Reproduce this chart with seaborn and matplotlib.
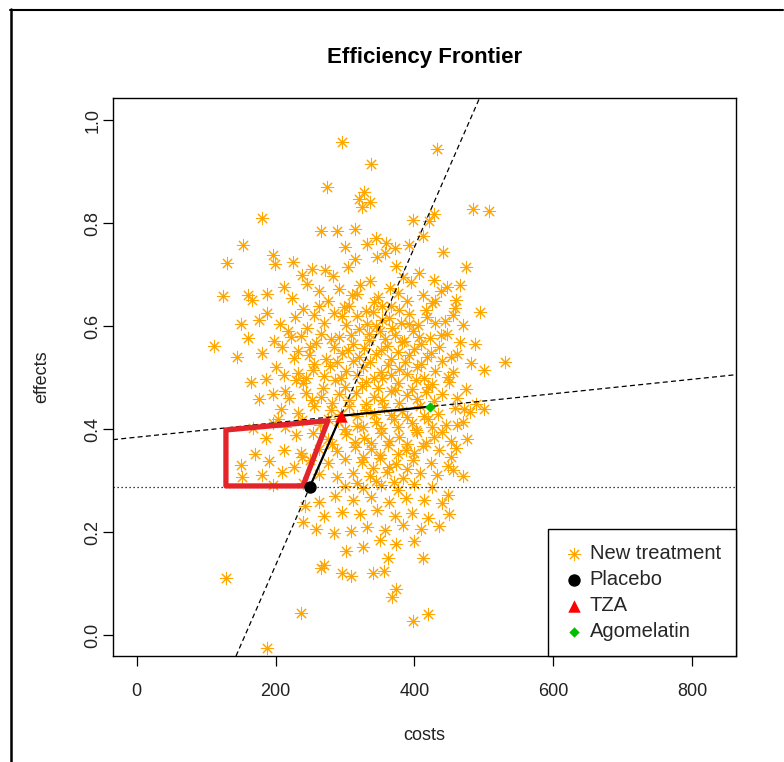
import matplotlib
matplotlib.use("Agg")
import matplotlib.pyplot as plt
import seaborn as sns
from matplotlib.lines import Line2D

sns.set_theme(style="white")
plt.rcParams['font.family'] = ['Liberation Sans', 'DejaVu Sans']

# Simulated "New treatment" cloud
costs = [
    296, 432, 338, 274, 327, 320, 180, 485, 508, 428,
    398, 336, 325, 421, 153, 300, 331, 359, 392, 266,
    288, 314, 345, 372, 413, 441, 474, 315, 346, 374,
    271, 225, 199, 130, 196, 238, 252, 283, 304, 357,
    406, 428, 447, 466, 395, 383, 365, 336, 322, 292,
    263, 246, 212, 188, 160, 124, 166, 224, 276, 310,
    348, 376, 412, 438, 460, 458, 425, 354, 298, 240,
    206, 176, 150, 188, 228, 255, 284, 318, 340, 364,
    392, 418, 444, 470, 494, 455, 430, 405, 380, 332,
    302, 270, 246, 218, 160, 198, 236, 266, 292, 350,
    372, 398, 422, 447, 466, 487, 436, 410, 385, 360,
    334, 312, 284, 258, 232, 210, 180, 144, 112, 200,
    226, 248, 272, 296, 320, 344, 366, 392, 418, 440,
    462, 482, 530, 500, 456, 430, 404, 378, 352, 326,
    302, 278, 254, 232, 212, 186, 164, 240, 286, 330,
    354, 376, 402, 426, 450, 474, 488, 462, 440, 416,
    390, 366, 342, 316, 292, 266, 244, 220, 196, 176,
    208, 232, 256, 280, 306, 330, 356, 382, 408, 434,
    458, 480, 500, 470, 446, 420, 396, 370, 344, 318,
    290, 264, 238, 214, 196, 168, 186, 230, 254, 276,
    302, 328, 352, 378, 404, 428, 452, 476, 460, 436,
    412, 388, 362, 338, 314, 288, 262, 236, 212, 170,
    150, 190, 226, 250, 276, 300, 324, 350, 374, 398,
    424, 448, 470, 456, 432, 408, 384, 360, 336, 312,
    288, 262, 210, 180, 152, 196, 240, 300, 326, 352,
    376, 400, 426, 448, 440, 414, 388, 364, 338, 312,
    286, 262, 242, 270, 296, 322, 346, 372, 396, 420,
    450, 436, 410, 384, 358, 332, 308, 284, 258, 240,
    350, 374, 400, 326, 302, 270, 362, 340, 296, 412,
    128, 265, 374, 368, 236, 398, 420, 188, 356, 308,
    318, 342, 366, 390, 306, 330, 354, 378, 296, 320,
    344, 368, 392, 308, 334, 358, 382, 406, 280, 304,
    328, 352, 376, 400, 424, 288, 312, 336, 362, 386,
    410, 270, 294, 318, 342, 366, 390, 414, 300, 324,
    348, 372, 396, 420, 282, 306, 330, 354, 378, 404,
    428, 294, 318, 342, 366, 390, 414, 300, 326, 352,
    376, 402, 426, 314, 338, 364, 390, 416, 326, 350,
    376, 400, 340, 364, 390, 318, 344, 370, 262, 250,
    256, 244, 268, 252, 276, 282, 438, 452, 448, 462,
    472, 440, 452, 222, 230, 214, 204, 238, 416, 430,
]
effects = [
    0.958, 0.944, 0.915, 0.870, 0.861, 0.848, 0.810, 0.828, 0.823, 0.818,
    0.806, 0.842, 0.832, 0.804, 0.758, 0.754, 0.760, 0.762, 0.758, 0.786,
    0.786, 0.788, 0.771, 0.752, 0.775, 0.744, 0.715, 0.730, 0.734, 0.718,
    0.709, 0.724, 0.720, 0.722, 0.738, 0.700, 0.712, 0.698, 0.716, 0.742,
    0.704, 0.690, 0.676, 0.680, 0.686, 0.695, 0.674, 0.688, 0.681, 0.672,
    0.669, 0.682, 0.676, 0.663, 0.660, 0.658, 0.652, 0.655, 0.650, 0.660,
    0.656, 0.664, 0.661, 0.668, 0.652, 0.636, 0.646, 0.640, 0.637, 0.633,
    0.605, 0.612, 0.604, 0.626, 0.618, 0.622, 0.626, 0.620, 0.628, 0.616,
    0.624, 0.618, 0.611, 0.602, 0.628, 0.622, 0.606, 0.603, 0.606, 0.604,
    0.602, 0.607, 0.596, 0.590, 0.578, 0.572, 0.581, 0.586, 0.579, 0.590,
    0.584, 0.590, 0.578, 0.586, 0.570, 0.566, 0.560, 0.566, 0.572, 0.562,
    0.574, 0.566, 0.560, 0.568, 0.552, 0.560, 0.548, 0.540, 0.562, 0.520,
    0.538, 0.544, 0.536, 0.548, 0.541, 0.546, 0.536, 0.545, 0.540, 0.532,
    0.546, 0.528, 0.530, 0.516, 0.512, 0.514, 0.520, 0.518, 0.512, 0.520,
    0.514, 0.522, 0.516, 0.510, 0.505, 0.498, 0.492, 0.490, 0.496, 0.492,
    0.500, 0.490, 0.495, 0.488, 0.492, 0.478, 0.450, 0.460, 0.468, 0.472,
    0.466, 0.474, 0.462, 0.470, 0.468, 0.462, 0.470, 0.460, 0.468, 0.458,
    0.440, 0.432, 0.446, 0.438, 0.446, 0.438, 0.444, 0.436, 0.446, 0.430,
    0.442, 0.434, 0.440, 0.414, 0.408, 0.420, 0.412, 0.420, 0.414, 0.406,
    0.416, 0.408, 0.418, 0.404, 0.412, 0.402, 0.384, 0.388, 0.392, 0.382,
    0.390, 0.384, 0.392, 0.386, 0.394, 0.386, 0.378, 0.382, 0.364, 0.360,
    0.368, 0.360, 0.370, 0.362, 0.366, 0.358, 0.362, 0.354, 0.360, 0.352,
    0.330, 0.338, 0.326, 0.340, 0.334, 0.342, 0.336, 0.344, 0.332, 0.340,
    0.334, 0.328, 0.310, 0.320, 0.312, 0.316, 0.306, 0.318, 0.310, 0.316,
    0.308, 0.314, 0.318, 0.312, 0.308, 0.292, 0.296, 0.290, 0.286, 0.292,
    0.282, 0.294, 0.288, 0.272, 0.256, 0.262, 0.266, 0.258, 0.268, 0.262,
    0.270, 0.258, 0.252, 0.232, 0.240, 0.236, 0.244, 0.232, 0.238, 0.228,
    0.236, 0.212, 0.206, 0.214, 0.204, 0.210, 0.202, 0.198, 0.206, 0.220,
    0.186, 0.178, 0.184, 0.172, 0.164, 0.136, 0.150, 0.120, 0.120, 0.150,
    0.112, 0.130, 0.090, 0.075, 0.044, 0.028, 0.042, -0.025, 0.125, 0.115,
    0.662, 0.648, 0.640, 0.650, 0.640, 0.630, 0.612, 0.632, 0.620, 0.594,
    0.600, 0.596, 0.604, 0.584, 0.586, 0.576, 0.570, 0.580, 0.576, 0.554,
    0.558, 0.554, 0.550, 0.556, 0.548, 0.530, 0.532, 0.530, 0.524, 0.530,
    0.526, 0.504, 0.500, 0.506, 0.500, 0.506, 0.508, 0.500, 0.482, 0.484,
    0.480, 0.476, 0.478, 0.482, 0.452, 0.456, 0.450, 0.456, 0.452, 0.458,
    0.454, 0.430, 0.426, 0.430, 0.428, 0.424, 0.426, 0.400, 0.404, 0.402,
    0.404, 0.398, 0.404, 0.376, 0.374, 0.378, 0.372, 0.374, 0.346, 0.350,
    0.352, 0.354, 0.324, 0.326, 0.322, 0.296, 0.300, 0.298, 0.640, 0.560,
    0.526, 0.500, 0.480, 0.456, 0.420, 0.372, 0.584, 0.540, 0.502, 0.408,
    0.440, 0.394, 0.346, 0.580, 0.496, 0.474, 0.420, 0.346, 0.632, 0.650,
]

# Existing treatments on the frontier
treat_names = ["Placebo", "TZA", "Agomelatin"]
treat_costs = [249.5, 294.0, 422.0]
treat_effects = [0.2885, 0.426, 0.444]

# Red region (polygon)
region_costs = [128.6, 239.5, 275.4, 128.6]
region_effects = [0.290, 0.290, 0.4167, 0.3987]

x_ticks = [0, 200, 400, 600, 800]
y_ticks = [0.0, 0.2, 0.4, 0.6, 0.8, 1.0]

W, H = 784, 762
fig = plt.figure(figsize=(W / 100, H / 100), dpi=100)
fig.patch.set_facecolor("white")
ax = fig.add_axes([113 / W, 1 - 656 / H, (736 - 113) / W, (656 - 98) / H])
ax.set_facecolor("white")

sns.scatterplot(x=costs, y=effects, marker=(8, 2, 0), color="#FFA500",
                s=78, linewidth=0.75, label="New treatment", ax=ax, zorder=2)

# Frontier lines
ax.axline((treat_costs[0], treat_effects[0]), (treat_costs[1], treat_effects[1]),
          color="black", lw=0.9, ls=(0, (4, 2.6)), zorder=3)
ax.axline((treat_costs[1], treat_effects[1]), (treat_costs[2], treat_effects[2]),
          color="black", lw=0.9, ls=(0, (4, 2.6)), zorder=3)
ax.axhline(treat_effects[0], color="black", lw=0.9, ls=(0, (1, 2.2)), zorder=3)

ax.fill(region_costs, region_effects, fill=False, edgecolor="#E3242B",
        lw=3.8, joinstyle="round", zorder=4)

ax.plot(treat_costs, treat_effects, color="black", lw=1.6, zorder=5)

markers = ["o", "^", "D"]
colors = ["black", "#FF0000", "#00C000"]
sizes = [80, 80, 28]
for name, cx, ey, m, c, s in zip(treat_names, treat_costs, treat_effects,
                                  markers, colors, sizes):
    sns.scatterplot(x=[cx], y=[ey], marker=m, color=c, s=s, linewidth=0,
                    label=name, ax=ax, zorder=6)

ax.set_xlim(-34, 863)
ax.set_ylim(-0.0402, 1.0433)
ax.set_xticks(x_ticks)
ax.set_xticklabels([str(v) for v in x_ticks])
ax.set_yticks(y_ticks)
ax.set_yticklabels([f"{v:.1f}" for v in y_ticks])

for sp in ax.spines.values():
    sp.set_color("black")
    sp.set_linewidth(1.0)
    sp.set_visible(True)

ax.tick_params(axis="both", which="major", bottom=True, left=True,
               direction="out", length=7.2, width=0.9, color="black",
               labelsize=13, labelcolor="#222222")
ax.tick_params(axis="x", pad=12.5)
ax.tick_params(axis="y", pad=1)
for lab in ax.get_yticklabels():
    lab.set_rotation(90)
    lab.set_va("center")
    lab.set_ha("right")

ax.set_title("Efficiency Frontier", fontsize=16, fontweight="bold",
             color="black", pad=25)
ax.set_xlabel("costs", fontsize=13, color="#222222")
ax.set_ylabel("effects", fontsize=13, color="#222222")
ax.xaxis.set_label_coords(0.5, (656 - 735) / (656 - 98))
ax.xaxis.label.set_va("center")
ax.yaxis.set_label_coords((42 - 113) / (736 - 113), 0.5)
ax.yaxis.label.set_va("center")

leg = ax.legend(loc="lower right", borderaxespad=0, frameon=True,
                fancybox=False, edgecolor="black", framealpha=1,
                fontsize=14.5, handletextpad=0.3, labelspacing=0.34,
                borderpad=0.75, handlelength=1.0)
leg.get_frame().set_linewidth(1.0)
leg.set_zorder(10)

# Outer frame (partially visible border of the screenshot)
fig.add_artist(Line2D([10 / W, 783 / W], [1 - 9.5 / H, 1 - 9.5 / H],
                      transform=fig.transFigure, color="black", lw=1.5))
fig.add_artist(Line2D([11 / W, 11 / W], [0, 1 - 9 / H],
                      transform=fig.transFigure, color="black", lw=1.8))

fig.savefig("out.png", dpi=100, facecolor="white")
